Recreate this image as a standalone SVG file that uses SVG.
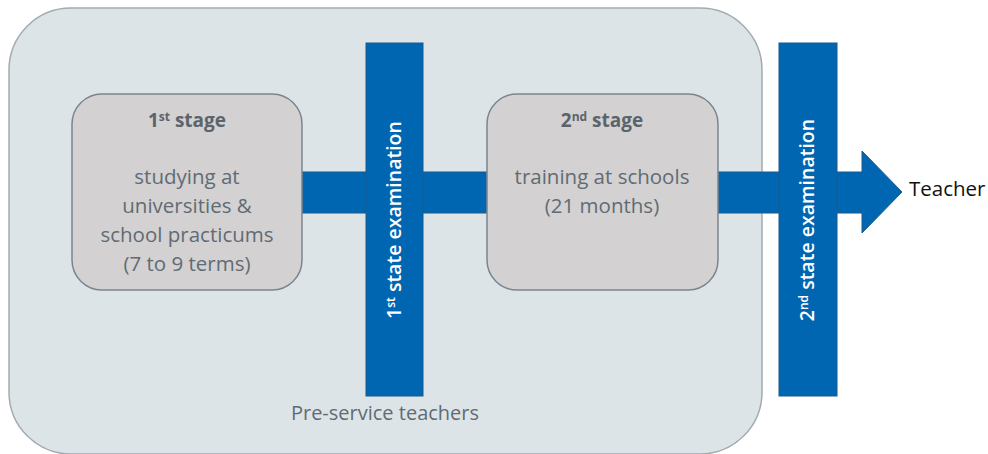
<svg xmlns="http://www.w3.org/2000/svg" width="988" height="454" viewBox="0 0 988 454">
<style>
.stage{fill:#d3d1d1;stroke:#7b858e;stroke-width:1.5}
.bar{fill:#0066b1;stroke:#1a5a8e;stroke-width:1}
.conn{fill:#0066b1;stroke:#1a5a8e;stroke-width:1}
.t{font-family:"Open Sans","Liberation Sans",sans-serif;fill:#616b74;text-anchor:middle}
.h{font-weight:bold;font-size:19px;fill:#5b646c}
.b{font-size:20.5px}
.w{font-family:"Open Sans","Liberation Sans",sans-serif;fill:#ffffff;font-weight:600;font-size:19.5px;text-anchor:middle}
.sup{font-size:12px}
</style>
<rect width="988" height="454" fill="#ffffff"/>
<g id="preservice">
<rect x="9" y="8" width="753" height="446" rx="62" ry="62" fill="#dde4e8" stroke="#a3abb0" stroke-width="1.5"/>
<text class="t" x="385" y="420" font-size="20px" fill="#6b757e">Pre-service teachers</text>
</g>
<g id="connectors">
<rect class="conn" x="300" y="172" width="68" height="41"/>
<rect class="conn" x="421" y="172" width="68" height="41"/>
<rect class="conn" x="716" y="172" width="65" height="41"/>
<polygon class="conn" points="836,172 862,172 862,151 902,192 862,233 862,213 836,213"/>
</g>
<g id="stage1">
<rect class="stage" x="72" y="94" width="230" height="196" rx="30" ry="30"/>
<text class="t h" x="187" y="127">1<tspan class="sup" dy="-6">st</tspan><tspan dy="6"> stage</tspan></text>
<text class="t b" x="187" y="184">studying at</text>
<text class="t b" x="187" y="213">universities &amp;</text>
<text class="t b" x="187" y="242">school practicums</text>
<text class="t b" x="187" y="271">(7 to 9 terms)</text>
</g>
<g id="exam1">
<rect class="bar" x="366" y="43" width="57" height="353"/>
<text class="w" transform="translate(401,220) rotate(-90)">1<tspan class="sup" dy="-6">st</tspan><tspan dy="6"> state examination</tspan></text>
</g>
<g id="stage2">
<rect class="stage" x="487" y="94" width="231" height="196" rx="30" ry="30"/>
<text class="t h" x="602" y="127">2<tspan class="sup" dy="-6">nd</tspan><tspan dy="6"> stage</tspan></text>
<text class="t b" x="602" y="184">training at schools</text>
<text class="t b" x="602" y="213">(21 months)</text>
</g>
<g id="exam2">
<rect class="bar" x="779" y="43" width="58" height="353"/>
<text class="w" transform="translate(814,220) rotate(-90)">2<tspan class="sup" dy="-6">nd</tspan><tspan dy="6"> state examination</tspan></text>
</g>
<g id="teacher">
<text x="909" y="196" font-family="'Open Sans','Liberation Sans',sans-serif" font-size="20.5" fill="#111111">Teacher</text>
</g>
</svg>
